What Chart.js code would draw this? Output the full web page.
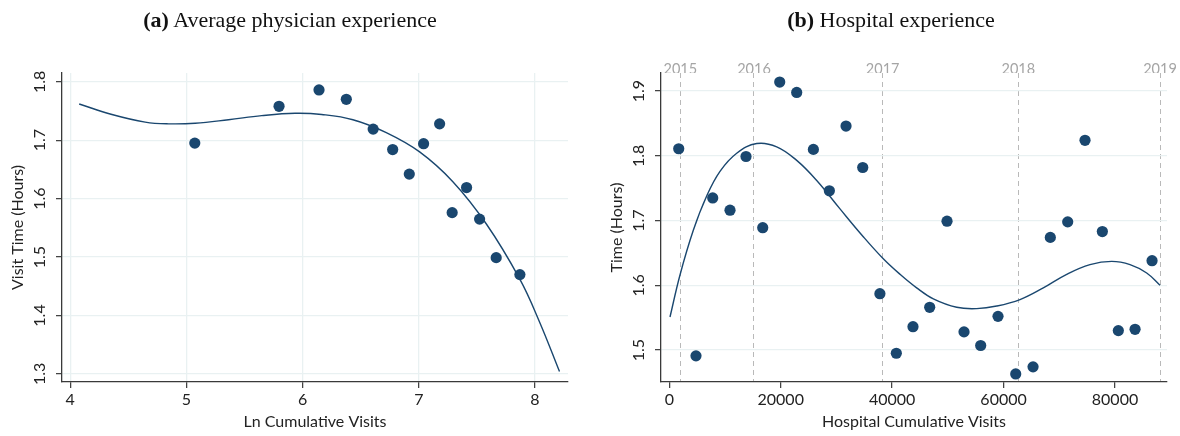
<!DOCTYPE html>
<html><head><meta charset="utf-8">
<script src="https://cdn.jsdelivr.net/npm/chart.js@4.4.1/dist/chart.umd.min.js"></script>
<style>
html,body{margin:0;padding:0;background:#fff;width:1180px;height:436px;overflow:hidden;}
.wrap{position:absolute;top:0;width:590px;height:436px;}
canvas{position:absolute;top:0;left:0;}
.title{position:absolute;top:7px;line-height:26px;font-family:"Liberation Serif",serif;font-size:22px;color:#111;white-space:nowrap;transform:translateX(-50%);}
</style></head><body>
<div class="wrap" style="left:0"><canvas id="ca" width="590" height="436"></canvas></div>
<div class="wrap" style="left:590px"><canvas id="cb" width="590" height="436"></canvas></div>
<div class="title" style="left:290px"><b>(a)</b> Average physician experience</div>
<div class="title" style="left:891px"><b>(b)</b> Hospital experience</div>
<script>
// ---- Panel (a) data ----
const physLnVisits = [5.072, 5.797, 6.141, 6.376, 6.607, 6.775, 6.918, 7.041, 7.179, 7.287, 7.411, 7.523, 7.666, 7.870];
const physVisitTime = [1.695, 1.758, 1.786, 1.770, 1.719, 1.684, 1.642, 1.694, 1.728, 1.576, 1.619, 1.565, 1.499, 1.470];
const physFitX = [4.077, 4.359, 4.645, 4.846, 5.075, 5.362, 5.648, 5.935, 6.164, 6.433, 6.720, 7.007, 7.293, 7.580, 7.867, 8.039, 8.211];
const physFitY = [1.762, 1.744, 1.731, 1.728, 1.729, 1.735, 1.742, 1.746, 1.744, 1.735, 1.713, 1.680, 1.629, 1.557, 1.463, 1.389, 1.304];
const physXTicks = [4, 5, 6, 7, 8];
const physYTicks = [1.3, 1.4, 1.5, 1.6, 1.7, 1.8];

// ---- Panel (b) data ----
const hospVisits = [1690, 4790, 7790, 10900, 13770, 16770, 19820, 22870, 25860, 28730, 31720, 34720, 37800, 40750, 43740, 46740, 49850, 52900, 55890, 59000, 62180, 65290, 68390, 71510, 74620, 77730, 80600, 83600, 86650];
const hospTime = [1.811, 1.491, 1.735, 1.716, 1.799, 1.689, 1.914, 1.898, 1.810, 1.746, 1.846, 1.782, 1.587, 1.495, 1.536, 1.566, 1.699, 1.528, 1.507, 1.552, 1.463, 1.474, 1.674, 1.698, 1.824, 1.683, 1.530, 1.532, 1.638];
const hospFitX = [126, 1920, 4310, 6710, 9100, 12100, 15690, 19280, 22870, 26460, 30640, 34820, 38410, 41410, 44400, 47390, 51590, 55180, 58770, 62950, 67130, 71330, 75510, 79410, 82700, 85690, 88080];
const hospFitY = [1.551, 1.616, 1.685, 1.738, 1.776, 1.804, 1.819, 1.814, 1.793, 1.762, 1.718, 1.675, 1.641, 1.617, 1.596, 1.579, 1.566, 1.564, 1.568, 1.578, 1.596, 1.617, 1.632, 1.637, 1.632, 1.619, 1.600];
const hospXTicks = [0, 20000, 40000, 60000, 80000];
const hospYTicks = [1.5, 1.6, 1.7, 1.8, 1.9];
const yearLabels = ['2015', '2016', '2017', '2018', '2019'];
const yearVisits = [1975, 15200, 38300, 62650, 88080];

const NAVY = '#1a476f';
const GRID = '#e9f1f2';
const AXIS = '#3a3a3a';
const TXT = '#222';
const FONT = 'Lato';
const FS = 16;

const pts = (xs, ys) => xs.map((x, i) => ({x: x, y: ys[i]}));
const fixedTicks = arr => scale => { scale.ticks = arr.map(v => ({value: v})); };

function yScale(min, max, ticks, width, title, titlePad) {
  return {
    type: 'linear', position: 'left', min: min, max: max,
    afterBuildTicks: fixedTicks(ticks),
    afterFit: s => { s.width = width; s.paddingTop = 0; s.paddingBottom = 0; },
    grid: {color: GRID, lineWidth: 1.3, tickColor: AXIS, tickLength: 6, tickWidth: 1.2},
    border: {color: AXIS, width: 1.3},
    ticks: {autoSkip: false, minRotation: 90, maxRotation: 90, crossAlign: 'center', padding: 4.8, color: TXT,
      font: {family: FONT, size: FS}, callback: v => v.toFixed(1)},
    title: {display: true, text: title, color: TXT, font: {family: FONT, size: FS}, padding: {top: titlePad, bottom: 0}}
  };
}
function xScale(min, max, ticks, title, gridOn) {
  return {
    type: 'linear', position: 'bottom', min: min, max: max,
    afterBuildTicks: fixedTicks(ticks),
    afterFit: s => { s.height = 54; s.paddingLeft = 0; s.paddingRight = 0; },
    grid: {color: GRID, lineWidth: 1.3, drawOnChartArea: gridOn, tickColor: AXIS, tickLength: 6, tickWidth: 1.2},
    border: {color: AXIS, width: 1.3},
    ticks: {autoSkip: false, maxRotation: 0, padding: 2.4, color: TXT, font: {family: FONT, size: FS}, callback: v => String(v)},
    title: {display: true, text: title, color: TXT, font: {family: FONT, size: FS}, padding: {top: 0, bottom: 4.4}}
  };
}
const common = {
  responsive: false, animation: false, devicePixelRatio: 1,
  plugins: {legend: {display: false}, tooltip: {enabled: false}}
};
const fitStyle = {showLine: true, borderColor: NAVY, borderWidth: 1.4, pointRadius: 0, tension: 0.4, order: 1};

new Chart(document.getElementById('ca'), {
  type: 'scatter',
  data: {datasets: [
    {data: pts(physLnVisits, physVisitTime), backgroundColor: NAVY, borderWidth: 0, pointRadius: 5.6, order: 0},
    Object.assign({data: pts(physFitX, physFitY)}, fitStyle)
  ]},
  options: Object.assign({}, common, {
    layout: {padding: {top: 73, right: 22, bottom: 0, left: 0}},
    scales: {
      x: xScale(3.929, 8.284, physXTicks, 'Ln Cumulative Visits', true),
      y: yScale(1.2862, 1.815, physYTicks, 62, 'Visit Time (Hours)', 7.9)
    }
  })
});

new Chart(document.getElementById('cb'), {
  type: 'scatter',
  data: {datasets: [
    {data: pts(hospVisits, hospTime), backgroundColor: NAVY, borderWidth: 0, pointRadius: 5.6, order: 0},
    Object.assign({data: pts(hospFitX, hospFitY)}, fitStyle)
  ]},
  options: Object.assign({}, common, {
    layout: {padding: {top: 0, right: 13, bottom: 0, left: 0}},
    scales: {
      x: xScale(-1490, 89334, hospXTicks, 'Hospital Cumulative Visits', false),
      x2: {
        type: 'linear', position: 'top', min: -1490, max: 89334,
        afterBuildTicks: fixedTicks(yearVisits),
        afterFit: s => { s.height = 73; s.paddingLeft = 0; s.paddingRight = 0; },
        grid: {color: '#b9b9b9', lineWidth: 1, drawTicks: false},
        border: {display: false, dash: [5, 4]},
        ticks: {autoSkip: false, maxRotation: 0, padding: -5, color: '#a5a5a5', font: {family: FONT, size: 14.5},
          callback: (v, i) => yearLabels[i]}
      },
      y: yScale(1.4506, 1.928, hospYTicks, 71, 'Time (Hours)', 17.4)
    }
  })
});
</script>
</body></html>
